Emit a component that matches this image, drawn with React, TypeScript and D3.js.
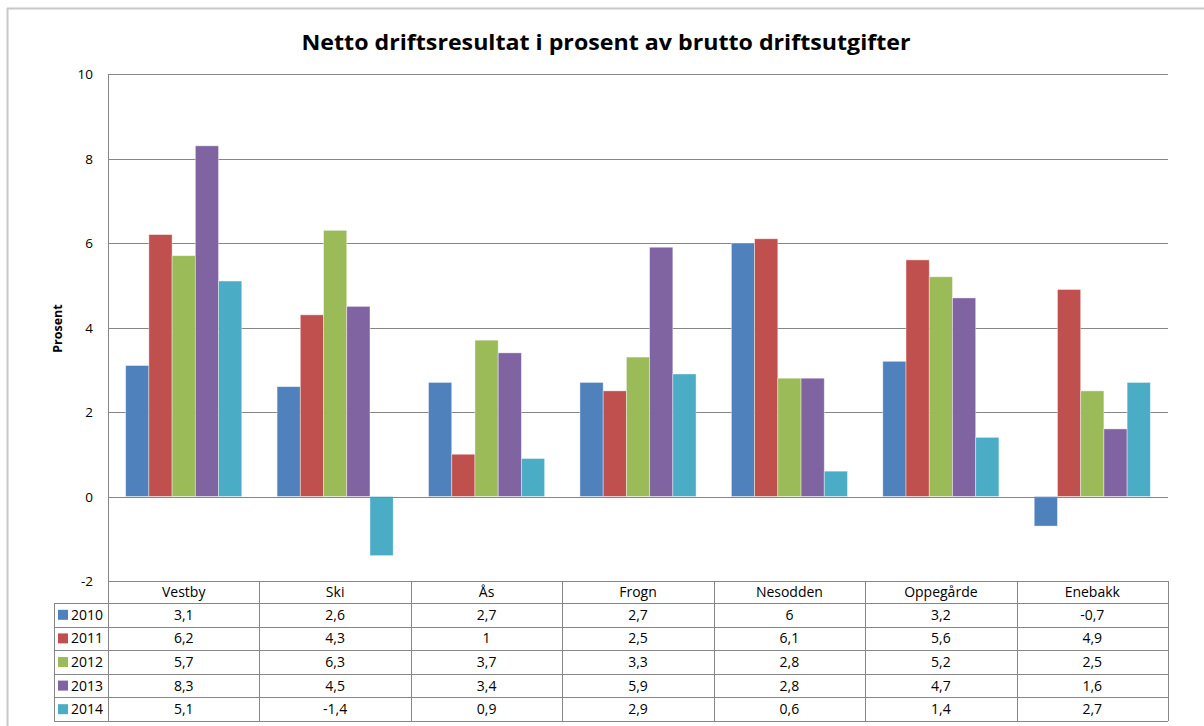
import React, { useRef, useEffect } from 'react';
import * as d3 from 'd3';

const categories = ['Vestby', 'Ski', 'Ås', 'Frogn', 'Nesodden', 'Oppegårde', 'Enebakk'];
const years = ['2010', '2011', '2012', '2013', '2014'];
const v2010 = [3.1, 2.6, 2.7, 2.7, 6, 3.2, -0.7];
const v2011 = [6.2, 4.3, 1, 2.5, 6.1, 5.6, 4.9];
const v2012 = [5.7, 6.3, 3.7, 3.3, 2.8, 5.2, 2.5];
const v2013 = [8.3, 4.5, 3.4, 5.9, 2.8, 4.7, 1.6];
const v2014 = [5.1, -1.4, 0.9, 2.9, 0.6, 1.4, 2.7];
const colors = ['#4F81BD', '#C0504D', '#9BBB59', '#8064A2', '#4BACC6'];
const yTicks = [-2, 0, 2, 4, 6, 8, 10];

const series = [v2010, v2011, v2012, v2013, v2014];
const font = '"Open Sans", "Liberation Sans", sans-serif';

export default function App() {
  const ref = useRef<SVGSVGElement>(null);
  useEffect(() => {
    const W = 1204, H = 726;
    const svg = d3.select(ref.current);
    svg.selectAll('*').remove();
    svg.attr('width', W).attr('height', H).attr('viewBox', `0 0 ${W} ${H}`);

    const left = 108, right = 1168, top = 74, bottom = 581;
    const x = d3.scaleBand().domain(categories).range([left, right]).padding(0);
    const inner = d3.scaleBand().domain(years).range([0, x.bandwidth()]).paddingOuter(0.76).paddingInner(0);
    const y = d3.scaleLinear().domain([-2, 10]).range([bottom, top]);

    // outer frame
    svg.append('line').attr('x1', 7).attr('x2', W).attr('y1', 8.5).attr('y2', 8.5).attr('stroke', '#c8c8c8').attr('stroke-width', 2);
    svg.append('line').attr('x1', 7.5).attr('x2', 7.5).attr('y1', 8).attr('y2', H).attr('stroke', '#c8c8c8').attr('stroke-width', 2);

    svg.append('text')
      .attr('x', 606).attr('y', 50)
      .attr('text-anchor', 'middle')
      .attr('font-family', font)
      .attr('font-weight', 'bold')
      .attr('font-size', 22)
      .attr('textLength', 609)
      .attr('lengthAdjust', 'spacingAndGlyphs')
      .text('Netto driftsresultat i prosent av brutto driftsutgifter');

    // gridlines
    svg.append('g').selectAll('line').data(yTicks.filter(t => t > 0)).join('line')
      .attr('x1', left).attr('x2', right)
      .attr('y1', d => Math.round(y(d)) + 0.5).attr('y2', d => Math.round(y(d)) + 0.5)
      .attr('stroke', '#868686');

    svg.append('g').selectAll('text').data(yTicks).join('text')
      .attr('x', 93).attr('y', d => y(d) + 5)
      .attr('text-anchor', 'end')
      .attr('font-family', font).attr('font-size', 13.5)
      .text(d => d);

    svg.append('text')
      .attr('transform', `translate(62,${(top + bottom) / 2 + 1}) rotate(-90)`)
      .attr('text-anchor', 'middle')
      .attr('font-family', font).attr('font-weight', 'bold').attr('font-size', 12.5)
      .text('Prosent');

    // bars
    series.forEach((vals, si) => {
      svg.append('g').selectAll('rect').data(vals).join('rect')
        .attr('x', (d, i) => x(categories[i])! + inner(years[si])!)
        .attr('width', inner.bandwidth())
        .attr('y', d => y(Math.max(0, d)))
        .attr('height', d => Math.abs(y(d) - y(0)))
        .attr('fill', colors[si])
        .attr('stroke', '#ffffff').attr('stroke-opacity', 0.5).attr('stroke-width', 0.8);
    });

    // zero line and left axis
    svg.append('line').attr('x1', left).attr('x2', right).attr('y1', Math.round(y(0)) + 0.5).attr('y2', Math.round(y(0)) + 0.5).attr('stroke', '#868686');
    svg.append('line').attr('x1', left + 0.5).attr('x2', left + 0.5).attr('y1', top).attr('y2', bottom).attr('stroke', '#868686');

    // data table
    const headerBottom = 603;
    const rowH = 23.6;
    const tableBottom = headerBottom + rowH * years.length;
    const g = svg.append('g').attr('stroke', '#868686').attr('fill', 'none');
    g.append('line').attr('x1', left).attr('x2', right).attr('y1', bottom + 0.5).attr('y2', bottom + 0.5);
    const cols = categories.map(c => x(c)!).concat([right]);
    g.selectAll('line.col').data(cols).join('line').attr('class', 'col')
      .attr('x1', d => Math.round(d) + 0.5).attr('x2', d => Math.round(d) + 0.5)
      .attr('y1', bottom).attr('y2', tableBottom);
    const rowsY = d3.range(years.length + 1).map(i => headerBottom + i * rowH);
    g.selectAll('line.row').data(rowsY).join('line').attr('class', 'row')
      .attr('x1', 54).attr('x2', right)
      .attr('y1', d => Math.round(d) + 0.5).attr('y2', d => Math.round(d) + 0.5);
    g.append('line').attr('x1', 54.5).attr('x2', 54.5).attr('y1', headerBottom).attr('y2', tableBottom);

    svg.append('g').selectAll('text').data(categories).join('text')
      .attr('x', c => x(c)! + x.bandwidth() / 2).attr('y', 597)
      .attr('text-anchor', 'middle')
      .attr('font-family', font).attr('font-size', 14)
      .text(c => c);

    years.forEach((yr, si) => {
      const cy = headerBottom + si * rowH + rowH / 2;
      svg.append('rect').attr('x', 58).attr('y', cy - 5).attr('width', 10).attr('height', 10).attr('fill', colors[si]);
      svg.append('text').attr('x', 71).attr('y', cy + 5)
        .attr('font-family', font).attr('font-size', 14).text(yr);
      svg.append('g').selectAll('text').data(series[si]).join('text')
        .attr('x', (d, i) => x(categories[i])! + x.bandwidth() / 2).attr('y', cy + 5)
        .attr('text-anchor', 'middle')
        .attr('font-family', font).attr('font-size', 14)
        .text(d => String(d).replace('.', ','));
    });
  }, []);
  return <svg ref={ref} style={{ position: 'absolute', left: 0, top: 0, display: 'block', background: '#fff' }} />;
}
